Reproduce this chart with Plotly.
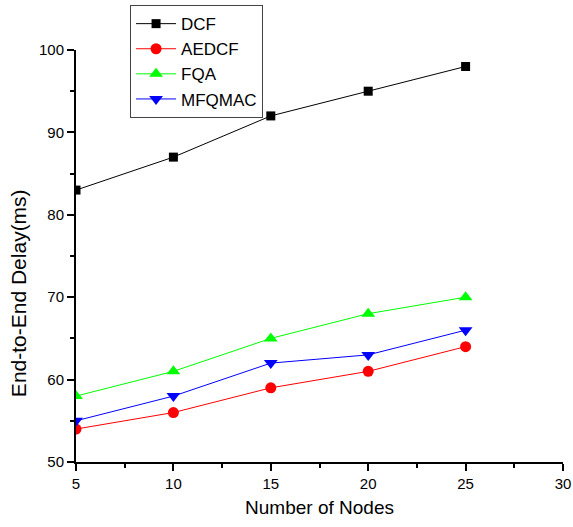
import plotly.graph_objects as go

nodes = [5, 10, 15, 20, 25]
dcf = [83, 87, 92, 95, 98]
aedcf = [54, 56, 59, 61, 64]
fqa = [58, 61, 65, 68, 70]
mfqmac = [55, 58, 62, 63, 66]

series = [
    ("DCF", dcf, "#000000", "square", 9),
    ("AEDCF", aedcf, "#ff0000", "circle", 11),
    ("FQA", fqa, "#00ff00", "triangle-up", 12),
    ("MFQMAC", mfqmac, "#0000ff", "triangle-down", 12),
]

FONT = "Liberation Sans, Arial"

fig = go.Figure()
for name, vals, col, sym, sz in series:
    fig.add_trace(go.Scatter(
        x=nodes, y=vals, name=name, mode="lines+markers",
        line=dict(color=col, width=1),
        marker=dict(symbol=sym, size=sz, color=col),
    ))

axis_common = dict(
    showline=True, linecolor="black", linewidth=2,
    ticks="outside", ticklen=7, tickwidth=2, tickcolor="black",
    showgrid=False, zeroline=False, mirror=False, automargin=False,
    tickfont=dict(family=FONT, size=15, color="black"),
)

fig.update_xaxes(
    range=[5, 30], dtick=5, tick0=5,
    minor=dict(ticks="outside", ticklen=4, tickwidth=2, tickcolor="black", dtick=2.5),
    title=dict(text="Number of Nodes", font=dict(family=FONT, size=19, color="black"), standoff=10),
    **axis_common,
)
fig.update_yaxes(
    range=[50, 100], dtick=10, tick0=50,
    minor=dict(ticks="outside", ticklen=4, tickwidth=2, tickcolor="black", dtick=5),
    **axis_common,
)

fig.add_annotation(
    text="End-to-End Delay(ms)", textangle=-90,
    xref="paper", yref="paper", x=-0.119, y=0.41,
    xanchor="center", yanchor="middle", showarrow=False,
    font=dict(family=FONT, size=21, color="black"),
)

fig.update_layout(
    width=573, height=527,
    margin=dict(l=76, r=10, t=50, b=65, autoexpand=False),
    plot_bgcolor="white", paper_bgcolor="white",
    showlegend=True,
    legend=dict(
        x=0.111, y=1.109, xanchor="left", yanchor="top",
        bgcolor="white", bordercolor="#444444", borderwidth=1,
        font=dict(family=FONT, size=17, color="black"),
        tracegroupgap=0, itemwidth=40,
    ),
)

fig.write_html("out.html", config={"displayModeBar": False},
               post_script="document.body.style.margin='0px';")
